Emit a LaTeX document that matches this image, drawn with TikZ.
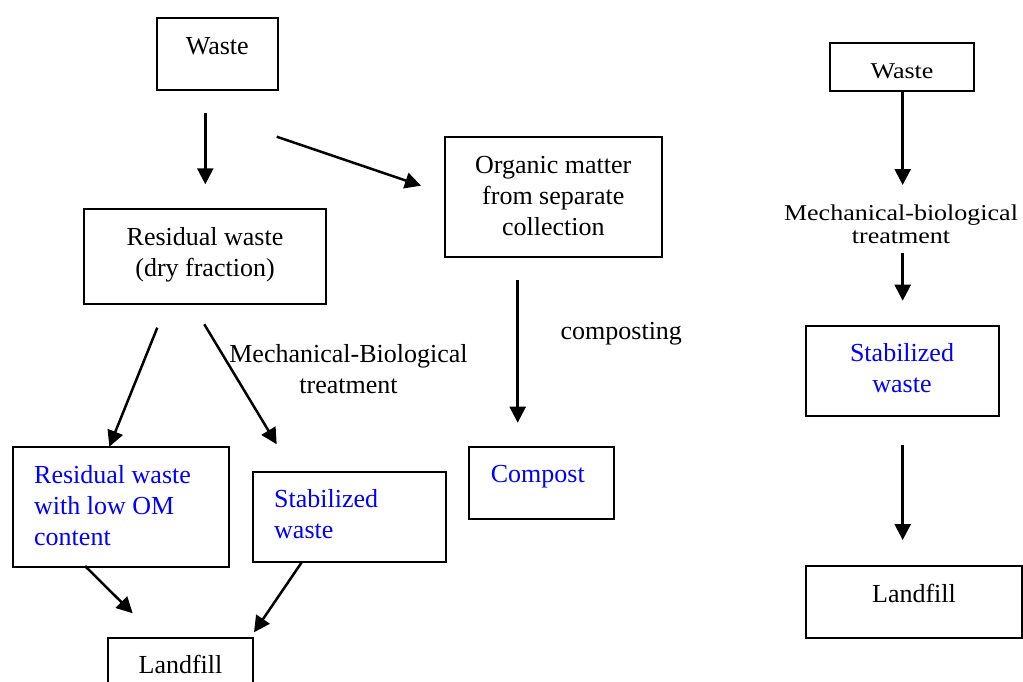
\documentclass[tikz,border=0pt]{standalone}
\usepackage{fontspec}
\setmainfont{Liberation Serif}
\usetikzlibrary{arrows.meta,fit}
\begin{document}
\begin{tikzpicture}[x=1pt,y=-1pt,
  box/.style={draw, line width=2.1pt, inner sep=0pt},
  txt/.style={font=\fontsize{26}{31}\selectfont, inner sep=0pt, anchor=base, align=center},
  btxt/.style={txt, text=blue, align=left, anchor=base west},
  sqz/.style={yscale=0.87, transform shape},
  arr/.style={line width=2.5pt, -{Triangle[length=16pt,width=16pt]}}]
\useasboundingbox (0,0) rectangle (1023,681);
\clip (0,0) rectangle (1023,681);
% left boxes
\node[box, fit={(156.7,18.3) (277.7,90)}] (waste) {};
\node[box, fit={(445,137.3) (662.3,256.7)}] (organic) {};
\node[box, fit={(84.3,209) (326,304.3)}] (residual) {};
\node[box, fit={(12.7,447.3) (229.3,566.7)}] (lowom) {};
\node[box, fit={(253.3,471.7) (446,561.7)}] (stab) {};
\node[box, fit={(469.3,447.3) (614,519)}] (compost) {};
\node[box, fit={(108,638) (253,700)}] (landfill) {};
% right boxes
\node[box, fit={(830,42.7) (974,91)}] (wasteR) {};
\node[box, fit={(806,325.7) (999,416)}] (stabR) {};
\node[box, fit={(806,566) (1022,638.3)}] (landfillR) {};
% texts (base anchor = baseline of the last line)
\node[txt] (wasteT) at (217.3,54.3) {Waste};
\node[txt] (residualT) at (205,276.7) {Residual waste\\(dry fraction)};
\node[txt] (organicT) at (553.3,235.7) {Organic matter\\from separate\\collection};
\node[txt] (compostingT) at (621.3,339.3) {composting};
\node[btxt] (compostT) at (490.7,482.7) {Compost};
\node[btxt] (lowomT) at (34,545.7) {Residual waste\\with low OM\\content};
\node[btxt] (stabT) at (274,538.3) {Stabilized\\waste};
\node[txt] (mbtT) at (348.5,393.3) {Mechanical-Biological\\treatment};
\node[txt] (landfillT) at (180.5,673.3) {Landfill};
\node[txt, sqz] (wasteRT) at (902,78.3) {Waste};
\node[txt, sqz, font=\fontsize{26}{26}\selectfont] (mbtRT) at (901,243.3) {Mechanical-biological\\treatment};
\node[txt, text=blue] (stabRT) at (902,392.3) {Stabilized\\waste};
\node[txt] (landfillRT) at (914,602.7) {Landfill};
% arrow ends
\coordinate (a1s) at (205.3,112.7); \coordinate (a1e) at (205.3,184.3);
\coordinate (a2s) at (276.7,136.7); \coordinate (a2e) at (421,185.7);
\coordinate (a3s) at (157.3,327.7); \coordinate (a3e) at (109.3,446.7);
\coordinate (a4s) at (204.3,324.3); \coordinate (a4e) at (276.7,444.3);
\coordinate (a5s) at (85,566);      \coordinate (a5e) at (132.7,613.3);
\coordinate (a6s) at (301.7,562.3); \coordinate (a6e) at (254,632.3);
\coordinate (a7s) at (517.7,280);   \coordinate (a7e) at (517.7,422.7);
\coordinate (r1s) at (902.7,91);    \coordinate (r1e) at (902.7,185);
\coordinate (r2s) at (902.7,253);   \coordinate (r2e) at (902.7,300.7);
\coordinate (r3s) at (902.7,445);   \coordinate (r3e) at (902.7,540);
\draw[arr] (a1s) -- (a1e);
\draw[arr] (a2s) -- (a2e);
\draw[arr] (a3s) -- (a3e);
\draw[arr] (a4s) -- (a4e);
\draw[arr] (a5s) -- (a5e);
\draw[arr] (a6s) -- (a6e);
\draw[arr] (a7s) -- (a7e);
\draw[arr] (r1s) -- (r1e);
\draw[arr] (r2s) -- (r2e);
\draw[arr] (r3s) -- (r3e);
\end{tikzpicture}
\end{document}
